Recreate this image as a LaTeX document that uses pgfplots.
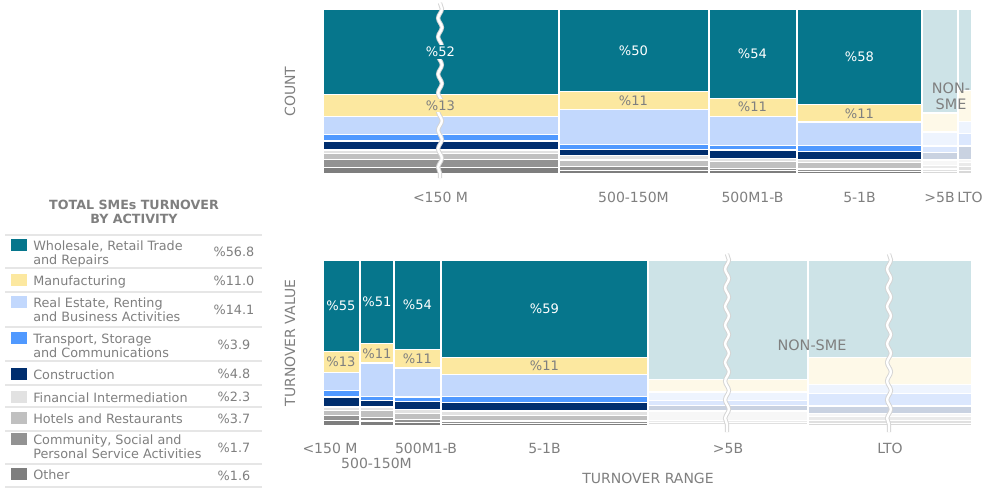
\documentclass[border=0pt]{standalone}
\usepackage{pgfplots}
\pgfplotsset{compat=1.18}
\usepackage{pgfplotstable}
\usepackage{fontspec}
\setmainfont{DejaVu Sans}
\usetikzlibrary{decorations.pathmorphing}

\definecolor{whl}{HTML}{06768C}
\definecolor{man}{HTML}{FCE8A0}
\definecolor{re}{HTML}{C2D8FD}
\definecolor{tra}{HTML}{5099FF}
\definecolor{con}{HTML}{002E6E}
\definecolor{fin}{HTML}{E2E2E2}
\definecolor{hot}{HTML}{C0C0C0}
\definecolor{com}{HTML}{929292}
\definecolor{oth}{HTML}{7E7E7E}
\definecolor{whlF}{HTML}{CDE3E7}
\definecolor{manF}{HTML}{FEF9E8}
\definecolor{reF}{HTML}{EEF4FE}
\definecolor{traF}{HTML}{DBE7FD}
\definecolor{conF}{HTML}{C9D2E1}
\definecolor{finF}{HTML}{F7F7F7}
\definecolor{hotF}{HTML}{EAEAEA}
\definecolor{comF}{HTML}{E0E0E0}
\definecolor{othF}{HTML}{D8D8D8}
\definecolor{txt}{HTML}{7F7F7F}
\definecolor{rulec}{HTML}{E6E6E6}
\definecolor{brk}{HTML}{D4D4D4}

% COUNT chart: shares (%) by activity; x = left edge of each turnover-range column
\pgfplotstableread{
x   whl  man  re   tra con fin hot com oth
323 52   13   11   4   5.5 2   3.5 5   4
559 50   11   21   3   4   2.5 4   2.5 2
709 54   11   17.5 3   5   2   4   1.5 2
797 58   10.5 14   4   4.5 2   4   1.5 1.5
922 58   10.5 14   4   4.5 2   4   1.5 1.5
}\topsme
\pgfplotstableread{
x   whl  man  re   tra con fin hot com oth
922 63   11.5 8.5  4   4.5 3.5 2   1.5 1.5
958 49.5 18.5 7.5  7.5 8   2   2.5 2.5 2
972 49.5 18.5 7.5  7.5 8   2   2.5 2.5 2
}\topnon
% TURNOVER VALUE chart
\pgfplotstableread{
x   whl  man  re   tra con fin hot com oth
323 55   13   10.5 4   6   2   3   3   3.5
360 50.5 11.5 20   2.5 4   2   4.5 2   3
394 54   11   17.5 2.5 5   2.5 3.5 2   2
441 58.5 10.5 13   4   5   2.5 3.5 1.5 1.5
648 58.5 10.5 13   4   5   2.5 3.5 1.5 1.5
}\botsme
\pgfplotstableread{
x   whl  man  re   tra con fin hot com oth
648 72   7.5  5    3   3.5 5.5 1.5 1   1
808 58.5 16.5 5.5  7.5 4.5 2   2   2   1.5
972 58.5 16.5 5.5  7.5 4.5 2   2   2   1.5
}\botnon

\pgfplotsset{
  mekko/.style={
    scale only axis, width=486.75pt,
    xmin=323, xmax=972, ymin=0, ymax=100,
    axis line style={draw=none}, ytick=\empty,
    major tick length=0pt, clip=false,
    stack plots=y,
    every axis plot/.append style={const plot, draw=white, line width=0.9pt},
    tick label style={font=\fontsize{10.5}{12}\selectfont, text=txt},
    label style={font=\fontsize{10.5}{12}\selectfont, text=txt},
  },
  sepaxis/.style={scale only axis, width=486.75pt,
    xmin=323, xmax=972, ymin=0, ymax=100, clip=false,
    axis line style={draw=none}, xtick=\empty, ytick=\empty},
  sep/.style={ycomb, draw=white, line width=1pt, mark=none},
}
\tikzset{
  pct/.style={font=\fontsize{9.8}{11}\selectfont, inner sep=1.5pt},
  wave/.style={decorate, decoration={snake, amplitude=1.4pt, segment length=14pt}},
}
\newcommand{\mekko}[2]{%
  \addplot[fill=oth#2] table[x=x,y=oth]{#1} \closedcycle;
  \addplot[fill=com#2] table[x=x,y=com]{#1} \closedcycle;
  \addplot[fill=hot#2] table[x=x,y=hot]{#1} \closedcycle;
  \addplot[fill=fin#2] table[x=x,y=fin]{#1} \closedcycle;
  \addplot[fill=con#2] table[x=x,y=con]{#1} \closedcycle;
  \addplot[fill=tra#2] table[x=x,y=tra]{#1} \closedcycle;
  \addplot[fill=re#2]  table[x=x,y=re]{#1} \closedcycle;
  \addplot[fill=man#2] table[x=x,y=man]{#1} \closedcycle;
  \addplot[fill=whl#2] table[x=x,y=whl]{#1} \closedcycle;
}

\begin{document}
\begin{tikzpicture}
\useasboundingbox (0,0) rectangle (749.25pt,-366.75pt);

% ---------- COUNT ----------
\begin{axis}[mekko, at={(242.25pt,-130.5pt)}, anchor=south west, height=123.75pt,
  xtick={440.5,633.5,752.5,859.5,939.5,970},
  xticklabels={{<150 M},{500-150M},{500M1-B},{5-1B},{>5B},{LTO}},
  xticklabel style={anchor=base, yshift=-21pt},
  ylabel={COUNT}, ylabel style={at={(axis description cs:-0.0508,0.5)}, anchor=center}]
\mekko{\topsme}{}
\end{axis}
\begin{axis}[mekko, at={(242.25pt,-130.5pt)}, anchor=south west, height=123.75pt, xtick=\empty]
\mekko{\topnon}{F}
\end{axis}
\begin{axis}[sepaxis, at={(242.25pt,-130.5pt)}, anchor=south west, height=123.75pt]
\addplot[sep] coordinates {(559,100) (709,100) (797,100) (922,100) (958,100)};
\end{axis}

% ---------- TURNOVER VALUE ----------
\begin{axis}[mekko, at={(242.25pt,-319.5pt)}, anchor=south west, height=124.5pt,
  xtick={330,426,544.5,728,890},
  xticklabels={{<150 M},{500M1-B},{5-1B},{>5B},{LTO}},
  xticklabel style={anchor=base, yshift=-20.25pt},
  extra x ticks={376.5}, extra x tick labels={500-150M},
  extra x tick style={xticklabel style={yshift=-11.25pt}},
  ylabel={TURNOVER VALUE}, ylabel style={at={(axis description cs:-0.0508,0.5)}, anchor=center},
  xlabel={TURNOVER RANGE}, xlabel style={at={(axis description cs:0.5008,-0.313)}, anchor=center}]
\mekko{\botsme}{}
\end{axis}
\begin{axis}[mekko, at={(242.25pt,-319.5pt)}, anchor=south west, height=124.5pt, xtick=\empty]
\mekko{\botnon}{F}
\end{axis}
\begin{axis}[sepaxis, at={(242.25pt,-319.5pt)}, anchor=south west, height=124.5pt]
\addplot[sep] coordinates {(360,100) (394,100) (441,100) (648,100) (808,100)};
\end{axis}

% ---------- breaks and value labels (image pixel coordinates) ----------
\begin{scope}[x=0.75pt, y=-0.75pt]
\draw[brk, line width=3.2pt, wave] (440,3) -- (440,178);
\draw[white, line width=1.8pt, wave] (440,3) -- (440,178);
\draw[brk, line width=3.2pt, wave] (727,254) -- (727,432);
\draw[white, line width=1.8pt, wave] (727,254) -- (727,432);
\draw[brk, line width=3.2pt, wave] (889,254) -- (889,432);
\draw[white, line width=1.8pt, wave] (889,254) -- (889,432);
% COUNT
\node[pct, fill=whl, text=white] at (440.5,51.9) {\%52};
\node[pct, fill=man, text=txt] at (440.5,105.5) {\%13};
\node[pct, text=white] at (633.5,50.3) {\%50};
\node[pct, text=txt] at (633.5,100.6) {\%11};
\node[pct, text=white] at (752.5,53.6) {\%54};
\node[pct, text=txt] at (752.5,107.2) {\%11};
\node[pct, text=white] at (859.5,56.9) {\%58};
\node[pct, text=txt] at (859.5,113.4) {\%11};
\node[font=\fontsize{10.8}{12}\selectfont, text=txt, align=center, inner sep=0pt] at (951,96) {NON-\\SME};
% TURNOVER VALUE
\node[pct, text=white] at (341,305.7) {\%55};
\node[pct, text=txt] at (341,361.3) {\%13};
\node[pct, text=white] at (377,301.9) {\%51};
\node[pct, text=txt] at (377,353.4) {\%11};
\node[pct, text=white] at (417.5,304.8) {\%54};
\node[pct, text=txt] at (417.5,358.8) {\%11};
\node[pct, text=white] at (544.5,308.6) {\%59};
\node[pct, text=txt] at (544.5,365.8) {\%11};
\node[font=\fontsize{10.8}{12}\selectfont, text=txt, inner sep=0pt] at (812,345) {NON-SME};
\end{scope}

% ---------- legend table ----------
\begin{scope}[x=0.75pt, y=-0.75pt,
  lg/.style={font=\fontsize{9.6}{10.5}\selectfont, text=txt, inner sep=0pt}]
\node[font=\bfseries\fontsize{9.5}{10.5}\selectfont, text=txt, align=center] at (134,212) {TOTAL SMEs TURNOVER\\BY ACTIVITY};
\foreach \yy in {235,268,292,327,361,385,407,431,464,487}
  \draw[rulec, line width=0.9pt] (5,\yy) -- (262,\yy);
% row 1
\fill[whl] (11,238.5) rectangle (27,250.5);
\node[lg, anchor=base west] at (33,250) {Wholesale, Retail Trade};
\node[lg, anchor=base west] at (33,264) {and Repairs};
\node[lg, anchor=base] at (234,256) {\%56.8};
% row 2
\fill[man] (11,273.5) rectangle (27,285.5);
\node[lg, anchor=base west] at (33,285) {Manufacturing};
\node[lg, anchor=base] at (234,285) {\%11.0};
% row 3
\fill[re] (11,295.5) rectangle (27,307.5);
\node[lg, anchor=base west] at (33,307) {Real Estate, Renting};
\node[lg, anchor=base west] at (33,321) {and Business Activities};
\node[lg, anchor=base] at (234,314.5) {\%14.1};
% row 4
\fill[tra] (11,331.5) rectangle (27,343.5);
\node[lg, anchor=base west] at (33,343) {Transport, Storage};
\node[lg, anchor=base west] at (33,357) {and Communications};
\node[lg, anchor=base] at (234,349) {\%3.9};
% row 5
\fill[con] (11,367.5) rectangle (27,379.5);
\node[lg, anchor=base west] at (33,379) {Construction};
\node[lg, anchor=base] at (234,378) {\%4.8};
% row 6
\fill[fin] (11,390.5) rectangle (27,402.5);
\node[lg, anchor=base west] at (33,402) {Financial Intermediation};
\node[lg, anchor=base] at (234,401.5) {\%2.3};
% row 7
\fill[hot] (11,411.5) rectangle (27,423.5);
\node[lg, anchor=base west] at (33,423) {Hotels and Restaurants};
\node[lg, anchor=base] at (234,423.5) {\%3.7};
% row 8
\fill[com] (11,432.5) rectangle (27,444.5);
\node[lg, anchor=base west] at (33,444) {Community, Social and};
\node[lg, anchor=base west] at (33,458) {Personal Service Activities};
\node[lg, anchor=base] at (234,452.5) {\%1.7};
% row 9
\fill[oth] (11,467.5) rectangle (27,479.5);
\node[lg, anchor=base west] at (33,479) {Other};
\node[lg, anchor=base] at (234,480.5) {\%1.6};
\end{scope}
\end{tikzpicture}
\end{document}
